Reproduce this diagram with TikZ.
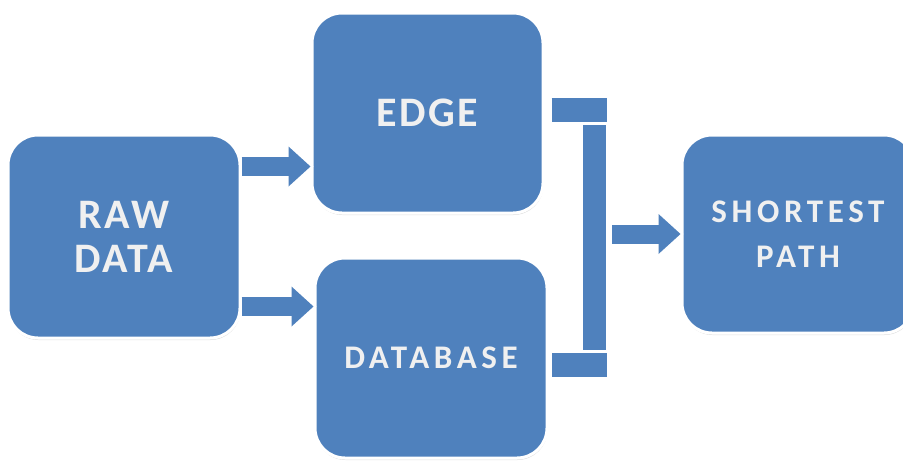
\documentclass[tikz,border=0pt]{standalone}
\usepackage{fontspec}
\setmainfont{Carlito}
\usetikzlibrary{arrows.meta,shadows}
\definecolor{boxblue}{RGB}{79,129,189}
\tikzset{
  block/.style={rounded corners=30pt, fill=boxblue, draw=white, line width=3pt,
    text=white!94!black, align=center, inner sep=0pt,
    font=\bfseries\fontsize{42}{44}\selectfont\addfontfeature{LetterSpace=6},
    drop shadow={opacity=0.25, shadow xshift=0.5pt, shadow yshift=-2pt}},
  smalltext/.style={font=\bfseries\fontsize{33}{45}\selectfont\addfontfeature{LetterSpace=14}},
  blockarrow/.style={draw=boxblue, line width=19pt,
    -{Triangle[length=22pt,width=40pt,line width=0pt]},
    preaction={draw=white, line width=24pt, shorten >=-3pt,
      -{Triangle[length=26pt,width=48pt,line width=0pt]}}},
  barline/.style={draw=boxblue, line width=24pt,
    preaction={draw=white, line width=29pt}}
}
\begin{document}
\begin{tikzpicture}[x=1pt,y=-1pt]
\useasboundingbox (0,0) rectangle (903,461);

\node[block, minimum width=232pt, minimum height=203pt] (raw) at (124,236.5) {RAW\\DATA};
\node[block, minimum width=231pt, minimum height=200pt] (edge) at (427.5,113) {EDGE};
\node[block, smalltext, minimum width=232pt, minimum height=200pt] (db) at (431,358) {DATABASE};
\node[block, smalltext, minimum width=232pt, minimum height=198pt] (spath) at (798,234) {SHORTEST\\PATH};

\node[fill=boxblue, draw=white, line width=2.5pt, outer sep=0pt, inner sep=0pt,
      minimum width=25pt, minimum height=279pt] (vbar) at (594.5,237.5) {};

\draw[blockarrow] ([yshift=70pt]raw.east) -- ([yshift=70pt]raw.east -| edge.west);
\draw[blockarrow] ([yshift=-70pt]raw.east) -- ([yshift=-70pt]raw.east -| db.west);

\draw[barline] ([shift={(7pt,3pt)}]edge.east) -- ([yshift=3pt]edge.east -| vbar.east);
\draw[barline] ([shift={(3.5pt,-6.5pt)}]db.east) -- ([yshift=-6.5pt]db.east -| vbar.east);
%\draw[barline] (vbar.north) -- (vbar.south);
\draw[blockarrow] ([xshift=5pt]vbar.east |- spath.west) -- (spath.west);
\end{tikzpicture}
\end{document}
